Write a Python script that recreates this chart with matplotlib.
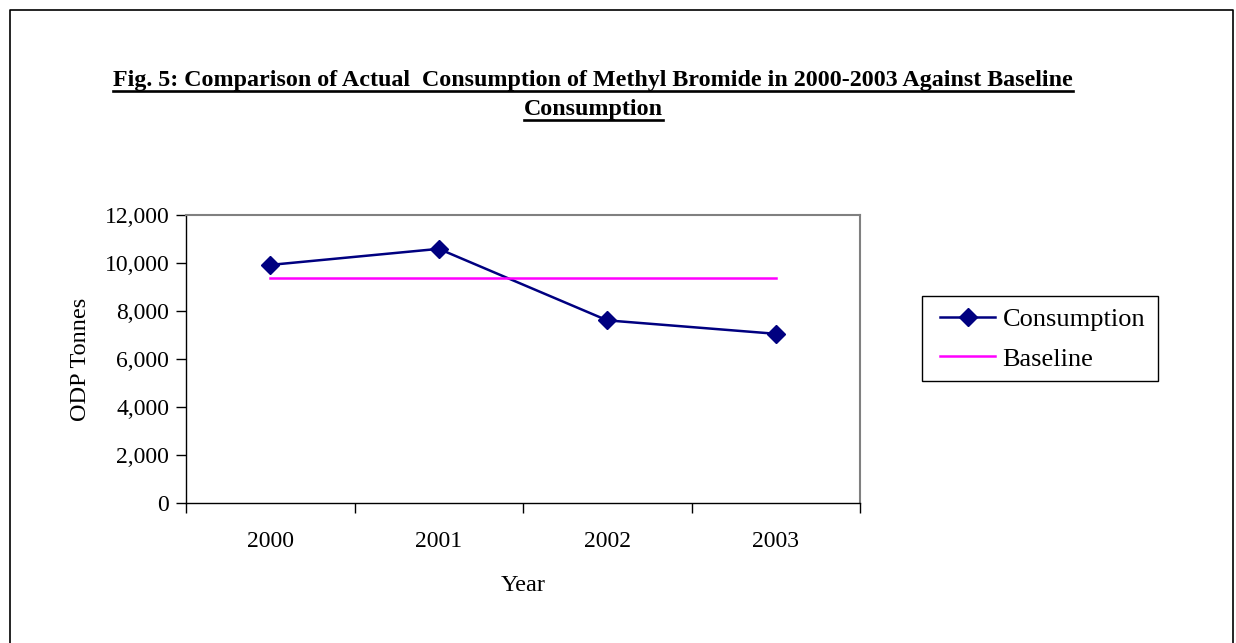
import matplotlib
matplotlib.use("Agg")
import matplotlib.pyplot as plt
from matplotlib.lines import Line2D
from matplotlib.patches import Rectangle
import numpy as np

years = ["2000", "2001", "2002", "2003"]
consumption = [9920, 10590, 7610, 7050]
baseline = [9390, 9390, 9390, 9390]
y_ticks = [0, 2000, 4000, 6000, 8000, 10000, 12000]

title_line1 = "Fig. 5: Comparison of Actual  Consumption of Methyl Bromide in 2000-2003 Against Baseline"
title_line2 = "Consumption"

plt.rcParams["font.family"] = ["Liberation Serif", "DejaVu Serif"]

W, H = 1236, 643
fig = plt.figure(figsize=(W / 100, H / 100), dpi=100)
fig.patch.set_facecolor("white")

# outer frame of the figure
frame = Line2D([10 / W, 10 / W, 1233 / W, 1233 / W], [0, 1 - 10 / H, 1 - 10 / H, 0],
               transform=fig.transFigure, color="black", lw=1.2)
fig.add_artist(frame)

ax = fig.add_axes([186 / W, 1 - 503 / H, (860 - 186) / W, (503 - 215) / H])
x = np.arange(len(years))

ax.plot(x, consumption, color="#000080", lw=1.8, marker="D", markersize=9.5,
        markerfacecolor="#000080", markeredgecolor="#000080", label="Consumption")
ax.plot(x, baseline, color="#FF00FF", lw=1.8, label="Baseline")

ax.set_xlim(-0.5, len(years) - 0.5)
ax.set_ylim(0, 12000)

ax.set_yticks(y_ticks)
ax.set_yticklabels([f"{v:,}" for v in y_ticks], fontsize=17)
ax.tick_params(axis="y", direction="out", length=7, width=1, pad=5)

# category boundaries carry the tick marks; labels sit at the centres
ax.set_xticks(np.arange(-0.5, len(years), 1.0))
ax.set_xticklabels([])
ax.set_xticks(x, minor=True)
ax.set_xticklabels(years, minor=True, fontsize=17)
ax.tick_params(axis="x", which="major", direction="out", length=7, width=1)
ax.tick_params(axis="x", which="minor", length=0, pad=20)

for side in ("top", "right"):
    ax.spines[side].set_color("#808080")
    ax.spines[side].set_linewidth(1.5)
for side in ("left", "bottom"):
    ax.spines[side].set_color("black")
    ax.spines[side].set_linewidth(1.0)

ax.set_ylabel("ODP Tonnes", fontsize=17.5, labelpad=10)
ax.set_xlabel("Year", fontsize=17.5, labelpad=17)

# legend box and entries
fig.add_artist(Rectangle((922 / W, 1 - 381 / H), (1158 - 922) / W, (381 - 296) / H,
                         transform=fig.transFigure, facecolor="white",
                         edgecolor="black", lw=1.0, zorder=1))
leg = fig.legend(loc="center left", bbox_to_anchor=(940 / W, 1 - 339 / H),
                 fontsize=19, frameon=False, handlelength=2.1, handletextpad=0.27,
                 borderpad=0, labelspacing=0.62, borderaxespad=0)
leg.set_zorder(2)

t1 = fig.text(593 / W, 1 - 86 / H, title_line1, ha="center", va="baseline",
              fontsize=17.3, fontweight="bold")
t2 = fig.text(593 / W, 1 - 115 / H, title_line2, ha="center", va="baseline",
              fontsize=17.3, fontweight="bold")

# underline the title lines
fig.canvas.draw()
renderer = fig.canvas.get_renderer()
for t, base in ((t1, 86), (t2, 115)):
    bb = t.get_window_extent(renderer)
    yline = H - (base + 4.5)
    fig.add_artist(Line2D([bb.x0 / W, bb.x1 / W], [yline / H, yline / H],
                          transform=fig.transFigure, color="black", lw=1.9))

fig.savefig("out.png", dpi=100, facecolor="white")
